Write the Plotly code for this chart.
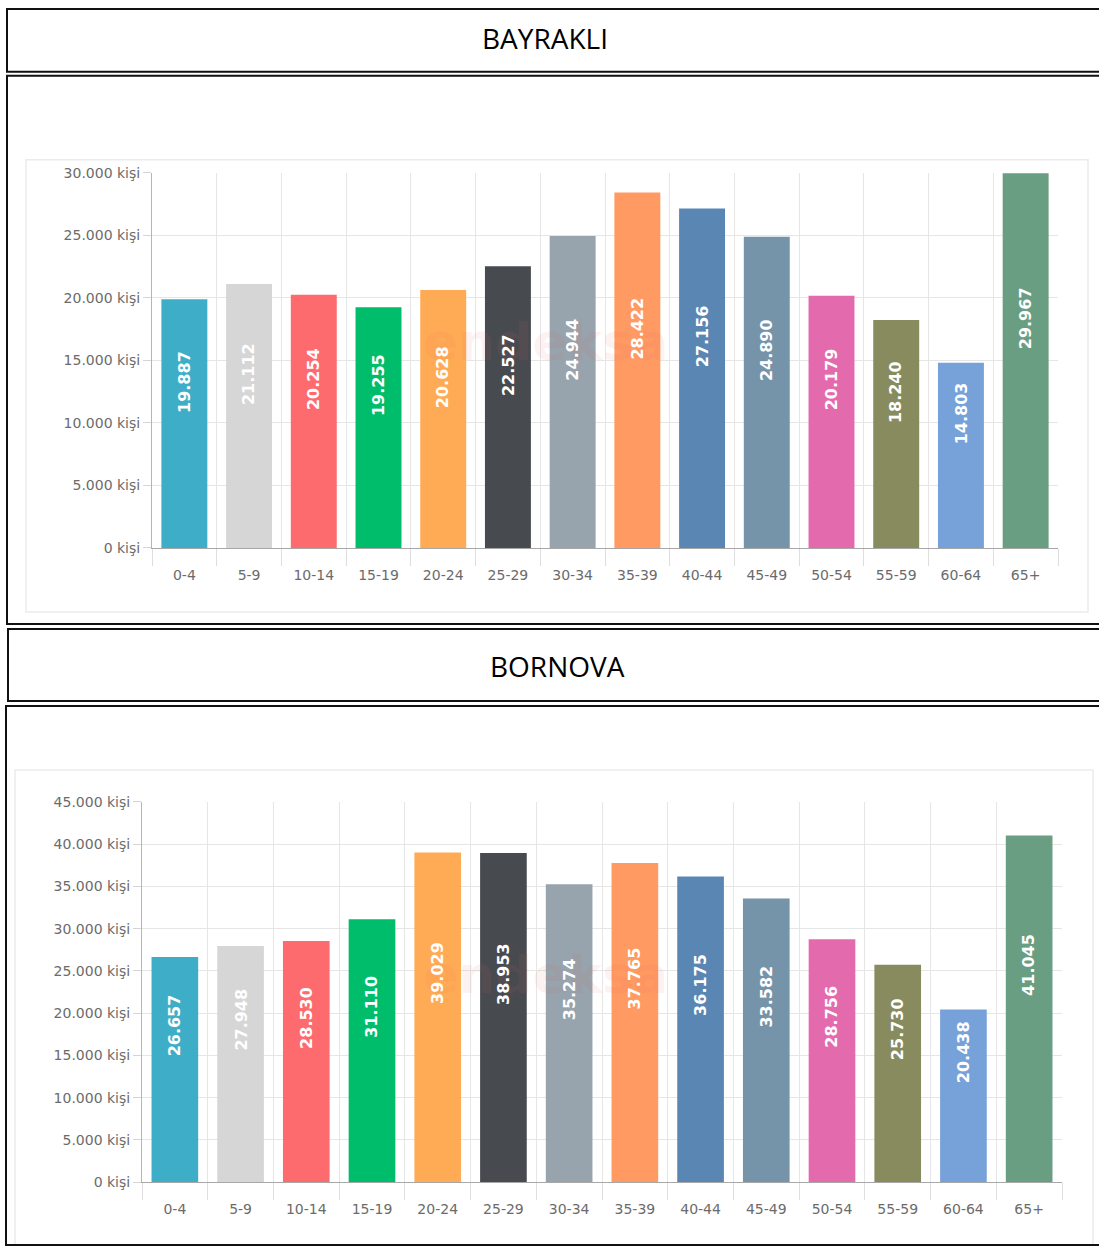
import plotly.graph_objects as go

W, H = 1099, 1254

categories = ["0-4", "5-9", "10-14", "15-19", "20-24", "25-29", "30-34",
              "35-39", "40-44", "45-49", "50-54", "55-59", "60-64", "65+"]
bayrakli = [19887, 21112, 20254, 19255, 20628, 22527, 24944,
            28422, 27156, 24890, 20179, 18240, 14803, 29967]
bornova = [26657, 27948, 28530, 31110, 39029, 38953, 35274,
           37765, 36175, 33582, 28756, 25730, 20438, 41045]
bar_colors = ["#3EAEC8", "#D6D6D6", "#FE6B6E", "#00BD6C", "#FFAB55", "#474B50",
              "#97A3AD", "#FF9A63", "#5A86B4", "#7594AA", "#E46AAE", "#878B5E",
              "#77A1D9", "#6A9E82"]
ticks1 = [0, 5000, 10000, 15000, 20000, 25000, 30000]
ticks2 = [0, 5000, 10000, 15000, 20000, 25000, 30000, 35000, 40000, 45000]
titles = ["BAYRAKLI", "BORNOVA"]


def fmt(v):
    return f"{v:,}".replace(",", ".")


def px(x):
    return x / W


def py(y):
    # compensate for the vertical offset/compression observed in the capture
    yf = (y - 8.2) / 0.987
    yf = min(max(yf, 1.0), H - 1.0)
    return 1 - yf / H


fig = go.Figure()
fig.add_trace(go.Bar(x=categories, y=bayrakli, marker=dict(color=bar_colors, line=dict(width=0)),
                     xaxis="x", yaxis="y", hoverinfo="x+y", showlegend=False))
fig.add_trace(go.Bar(x=categories, y=bornova, marker=dict(color=bar_colors, line=dict(width=0)),
                     xaxis="x2", yaxis="y2", hoverinfo="x+y", showlegend=False))

tickfont = dict(family="DejaVu Sans", size=14, color="#6b6b6b")
grid = "#e6e6e6"

xcommon = dict(type="category", tickson="boundaries", ticks="outside", ticklen=17,
               tickcolor="#dedede", showgrid=True, gridcolor=grid, gridwidth=1,
               showline=True, linecolor="#a8a8a8", linewidth=1, tickfont=tickfont,
               ticklabelstandoff=14, range=[-0.5, 13.5], fixedrange=True)
ycommon = dict(showgrid=True, gridcolor=grid, gridwidth=1, zeroline=False,
               showline=True, linecolor="#b5b5b5", linewidth=1, ticks="outside",
               ticklen=8, tickcolor="#d5d5d5", tickfont=tickfont, fixedrange=True)

fig.update_layout(
    width=W, height=H, margin=dict(l=0, r=0, t=0, b=0),
    paper_bgcolor="white", plot_bgcolor="white", bargap=0.29,
    xaxis=dict(domain=[px(152), px(1058)], anchor="y", **xcommon),
    yaxis=dict(domain=[py(548), py(173)], anchor="x", range=[0, 30000],
               tickvals=ticks1, ticktext=[fmt(t) + " kişi" for t in ticks1], **ycommon),
    xaxis2=dict(domain=[px(142), px(1062)], anchor="y2", **xcommon),
    yaxis2=dict(domain=[py(1182), py(802)], anchor="x2", range=[0, 45000],
                tickvals=ticks2, ticktext=[fmt(t) + " kişi" for t in ticks2], **ycommon),
)

shapes = []
# outer black boxes
for (x0, y0, y1) in [(7, 1, 72), (7, 76, 624), (8, 629, 701), (6, 706, 1252)]:
    shapes.append(dict(type="rect", xref="paper", yref="paper",
                       x0=px(x0), x1=px(1112), y0=py(y1), y1=py(y0),
                       line=dict(color="#111111", width=2), layer="above"))
# faint inner screenshot panels
for (x0, x1, y0, y1) in [(26, 1088, 160, 612), (15, 1093, 770, 1245)]:
    shapes.append(dict(type="rect", xref="paper", yref="paper",
                       x0=px(x0), x1=px(x1), y0=py(y1), y1=py(y0),
                       line=dict(color="#ebebeb", width=1.5), layer="below"))
fig.update_layout(shapes=shapes)

ann = []
for title, (cx, cy) in zip(titles, [(545, 38), (557, 666)]):
    ann.append(dict(text=title, x=px(cx), y=py(cy), xref="paper", yref="paper",
                    xanchor="center", yanchor="middle", showarrow=False,
                    font=dict(family="Open Sans", size=28, color="#000000")))

# faint watermark
for (cx, cy) in [(545, 342), (545, 975)]:
    ann.append(dict(text="endeksa", x=px(cx), y=py(cy), xref="paper", yref="paper",
                    xanchor="center", yanchor="middle", showarrow=False, opacity=0.07,
                    font=dict(family="DejaVu Sans", size=52, color="#f05a5a", weight="bold")))

for xa, ya, vals, shift in [("x", "y", bayrakli, 42), ("x2", "y2", bornova, 44)]:
    for c, v in zip(categories, vals):
        ann.append(dict(text=fmt(v), x=c, y=v / 2, xref=xa, yref=ya, yshift=shift,
                        xanchor="center", yanchor="middle",
                        textangle=-90, showarrow=False,
                        font=dict(family="DejaVu Sans", size=16, color="white", weight="bold")))
fig.update_layout(annotations=ann)

fig.write_html("out.html")
